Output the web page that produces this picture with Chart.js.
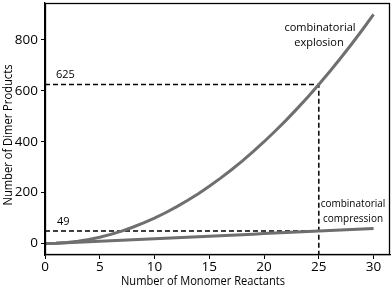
<!DOCTYPE html>
<html><head><meta charset="utf-8">
<script src="https://cdn.jsdelivr.net/npm/chart.js@4.4.1/dist/chart.umd.min.js"></script>
<style>html,body{margin:0;padding:0;background:#fff}#wrap{width:392px;height:289px}</style>
</head><body><div id="wrap"><canvas id="c" width="392" height="289"></canvas></div>
<script>
const xValues = [0,1,2,3,4,5,6,7,8,9,10,11,12,13,14,15,16,17,18,19,20,21,22,23,24,25,26,27,28,29,30];
const explosion = [0,1,4,9,16,25,36,49,64,81,100,121,144,169,196,225,256,289,324,361,400,441,484,529,576,625,676,729,784,841,900];
const compression = [0,1,3,5,7,9,11,13,15,17,19,21,23,25,27,29,31,33,35,37,39,41,43,45,47,49,51,53,55,57,59];
const xTicks = [0,5,10,15,20,25,30];
const yTicks = [0,200,400,600,800];
const markX = 25, markHigh = 625, markLow = 49;

const curveColor = '#6f6f6f';
const toPts = arr => xValues.map((x,i)=>({x, y:arr[i]}));

const annot = {
  id:'annot',
  afterDraw(chart){
    const {ctx, chartArea:a, scales:{x,y}} = chart;
    ctx.save();
    ctx.strokeStyle='#000'; ctx.lineWidth=1.3;
    ctx.strokeRect(a.left+0.5, a.top+0.5, a.right-a.left-1, a.bottom-a.top-1);
    ctx.fillStyle='#000';
    ctx.textBaseline='middle';
    ctx.font='500 11px "Open Sans"';
    ctx.textAlign='left';
    ctx.fillText(String(markHigh), 56, y.getPixelForValue(markHigh)-10);
    ctx.fillText(String(markLow), 57, y.getPixelForValue(markLow)-9);
    ctx.textAlign='center';
    ctx.fillText('combinatorial', 320, 28);
    ctx.fillText('explosion', 319, 43);
    ctx.font='500 10px "Open Sans"';
    ctx.fillText('combinatorial', 353, 204);
    ctx.fillText('compression', 353, 219);
    const fitText = (t, cx, cy, w, rot) => {
      ctx.save();
      ctx.translate(cx, cy);
      if (rot) ctx.rotate(-Math.PI/2);
      ctx.font='500 13.5px "Open Sans"';
      const mw = ctx.measureText(t).width;
      ctx.scale(w/mw, 1);
      ctx.textAlign='center'; ctx.textBaseline='middle';
      ctx.fillText(t, 0, 0);
      ctx.restore();
    };
    fitText('Number of Monomer Reactants', 203, 281, 164, false);
    fitText('Number of Dimer Products', 8, 135, 141, true);
    ctx.restore();
  }
};

new Chart(document.getElementById('c'), {
  type:'scatter',
  data:{datasets:[
    {data:toPts(explosion), showLine:true, borderColor:curveColor, borderWidth:3, pointRadius:0, tension:0},
    {data:toPts(compression), showLine:true, borderColor:curveColor, borderWidth:3, pointRadius:0, tension:0},
    {data:[{x:0,y:markHigh},{x:markX,y:markHigh},{x:markX,y:-45}], showLine:true, borderColor:'#000', borderWidth:1.5, borderDash:[5,3], pointRadius:0},
    {data:[{x:0,y:markLow},{x:markX,y:markLow}], showLine:true, borderColor:'#000', borderWidth:1.5, borderDash:[5,3], pointRadius:0}
  ]},
  options:{
    responsive:false, animation:false,
    layout:{padding:{top:3,right:2,left:0,bottom:0}},
    plugins:{legend:{display:false}, tooltip:{enabled:false}},
    scales:{
      x:{type:'linear', min:0, max:31.5,
        afterBuildTicks(s){s.ticks = xTicks.map(v=>({value:v}));},
        afterFit(s){s.height=34; s.paddingLeft=0; s.paddingRight=0;},
        grid:{drawOnChartArea:false, drawTicks:true, tickLength:4, color:'#000'},
        border:{display:true, color:'#000', width:1.3},
        ticks:{color:'#000', font:{family:'"Open Sans"', size:13.5, weight:'500'}, padding:0, maxRotation:0}
      },
      y:{type:'linear', min:-45, max:945,
        afterBuildTicks(s){s.ticks = yTicks.map(v=>({value:v}));},
        afterFit(s){s.width=45; s.paddingTop=0; s.paddingBottom=0;},
        grid:{drawOnChartArea:false, drawTicks:true, tickLength:4, color:'#000'},
        border:{display:true, color:'#000', width:1.3},
        ticks:{color:'#000', font:{family:'"Open Sans"', size:13.5, weight:'500'}, padding:3}
      }
    }
  },
  plugins:[annot]
});
</script></body></html>
